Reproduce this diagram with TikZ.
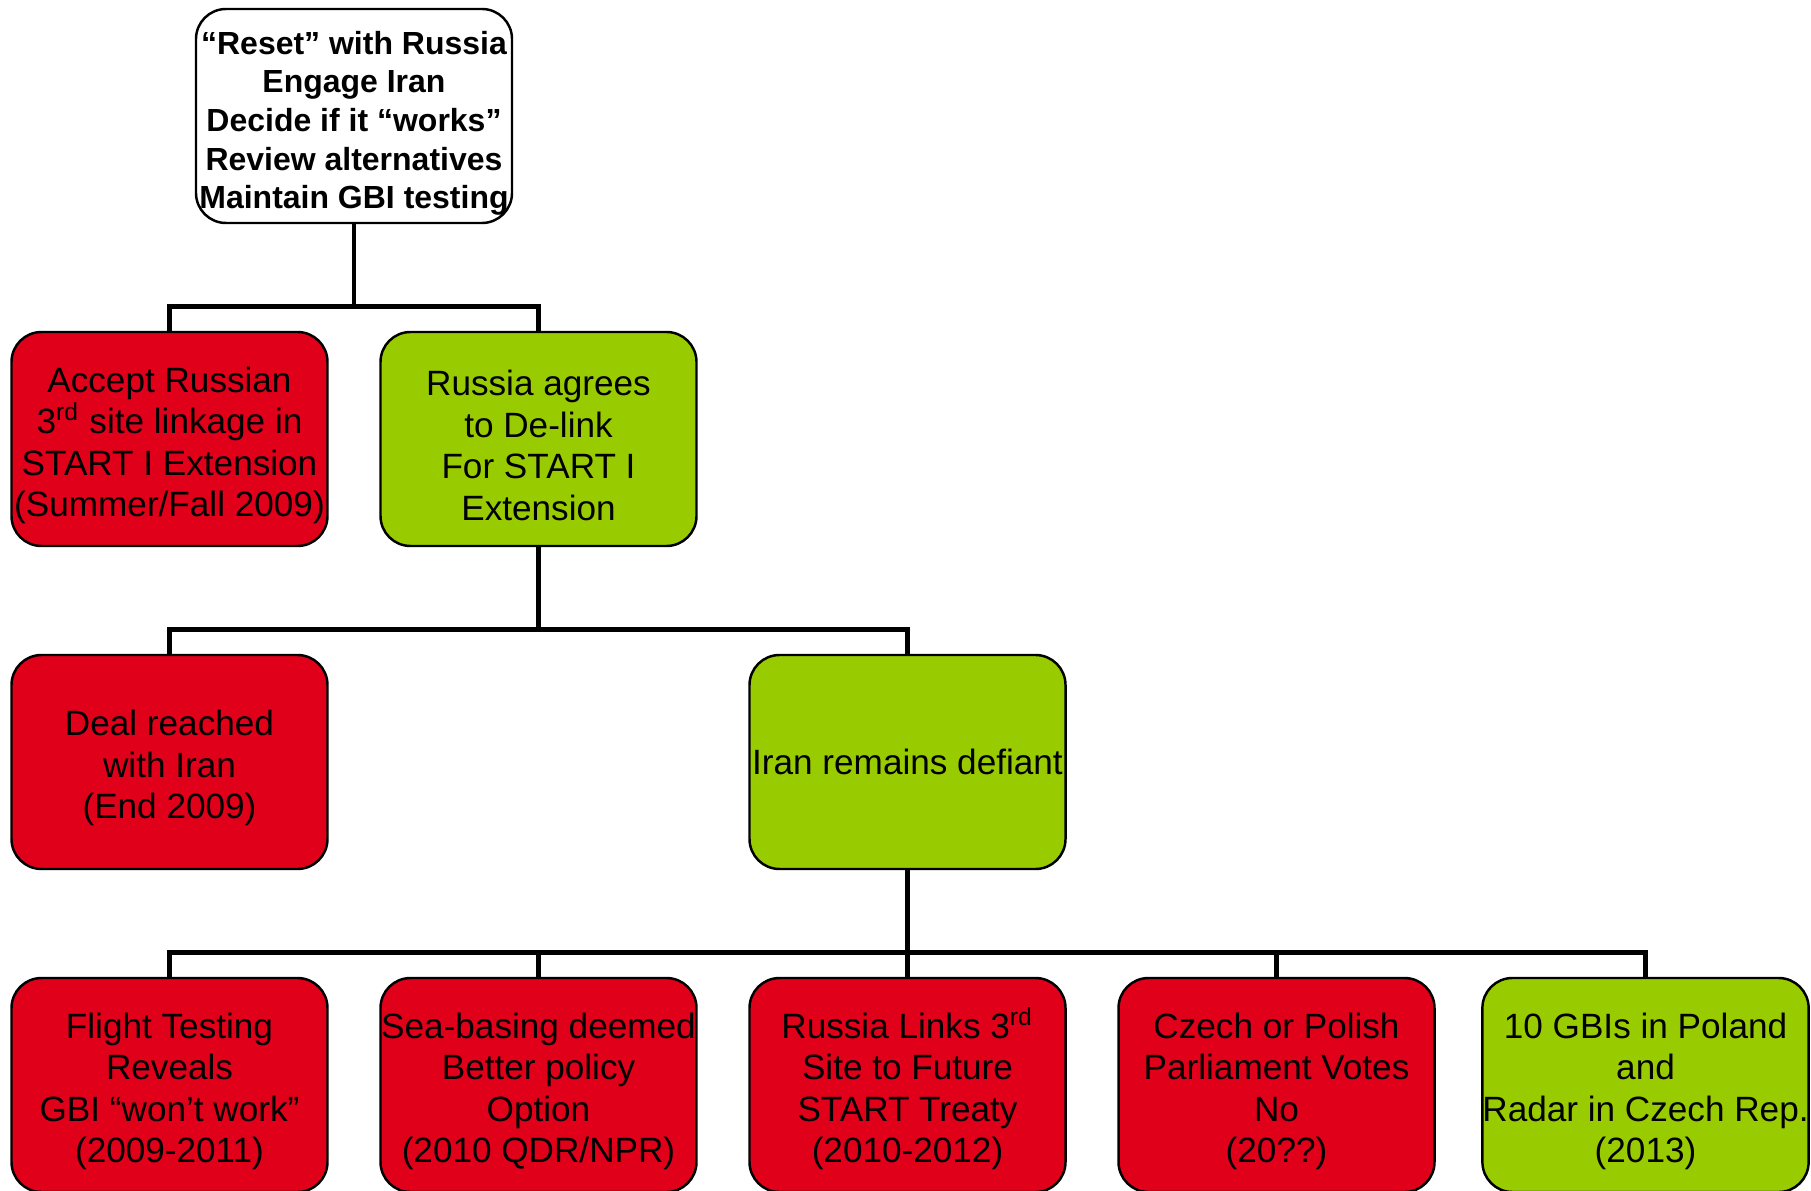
\documentclass[tikz,border=0pt]{standalone}
\usepackage{fontspec}
\setmainfont{Liberation Sans}
\definecolor{nored}{HTML}{E0001A}
\definecolor{yesgreen}{HTML}{99CC00}
\newcommand{\topgap}{\rule{0pt}{10.8pt}}
\tikzset{
    box/.style={draw=black, line width=0.7pt, rounded corners=0.3cm,
        minimum width=3.16cm, minimum height=2.14cm, inner sep=0pt,
        align=center, font=\fontsize{10}{11.8}\selectfont},
    nobox/.style={box, fill=nored},
    yesbox/.style={box, fill=yesgreen},
    startbox/.style={box, fill=white, font=\fontsize{9.1}{11}\selectfont\bfseries},
}
\begin{document}
\begin{tikzpicture}[level distance=3.23cm,
    edge from parent/.style={draw, line width=1.4pt},
    edge from parent path={(\tikzchildnode.north) -- ++(0,0.24) -| (\tikzparentnode.south)}]
    
    \tikzstyle{level 1}=[sibling distance=36.9mm]
    \tikzstyle{level 2}=[sibling distance=73.8mm]
    \tikzstyle{level 3}=[sibling distance=36.9mm]
    
    \useasboundingbox (0,0) rectangle (18.11,-11.90);
    
    \node[startbox] (Reset) at (3.54,-1.16) {\topgap“Reset” with Russia\\Engage Iran\\Decide if it “works”\\Review alternatives\\Maintain GBI testing}
    child {
        node[nobox] (Linkage) {\topgap Accept Russian\\3\textsuperscript{rd} site linkage in\\START I Extension\\(Summer/Fall 2009)}
    }
    child {
        node[yesbox] (Delink) {\topgap Russia agrees\\to De-link\\For START I\\Extension}
        child {
            node[nobox] (Deal) {\topgap Deal reached\\with Iran\\(End 2009)}
        }
        child {
            node[yesbox] (Defiant) {Iran remains defiant}
                child {
                    node[nobox] (Flight) {\topgap Flight Testing\\Reveals\\GBI “won’t work”\\(2009-2011)}
                }
                child {
                    node[nobox] (Sea) {\topgap Sea-basing deemed\\Better policy\\Option\\(2010 QDR/NPR)}
                }
                child {
                    node[nobox] (Links) {\topgap Russia Links 3\textsuperscript{rd}\\Site to Future\\START Treaty\\(2010-2012)}
                }
                child {
                    node[nobox] (Votes) {\topgap Czech or Polish\\Parliament Votes\\No\\(20??)}
                }
                child {
                    node[yesbox] (Radar) {\topgap 10 GBIs in Poland\\and\\Radar in Czech Rep.\\(2013)}
                }
        }
    };
    \end{tikzpicture}
\end{document}
